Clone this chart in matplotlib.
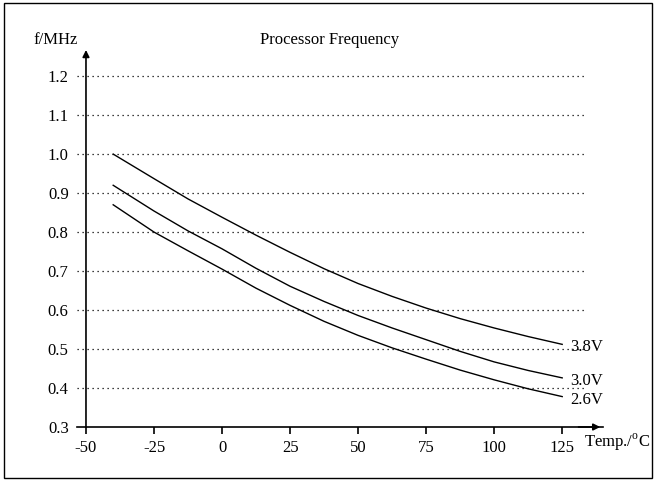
import matplotlib.pyplot as plt
from matplotlib.patches import Rectangle

plt.rcParams['font.family'] = ['Liberation Serif', 'DejaVu Serif']
plt.rcParams['mathtext.fontset'] = 'custom'
plt.rcParams['mathtext.rm'] = 'Liberation Serif'

# Temperature in degrees C
temps = [-40, -25, -12.5, 0, 12.5, 25, 37.5, 50, 62.5, 75, 87.5, 100, 112.5, 125]

# Frequency in MHz for each supply voltage
f_38 = [1.000, 0.937, 0.885, 0.838, 0.792, 0.748, 0.706, 0.668, 0.635, 0.605, 0.578, 0.554, 0.532, 0.512]
f_30 = [0.920, 0.854, 0.803, 0.757, 0.707, 0.661, 0.622, 0.586, 0.554, 0.524, 0.494, 0.467, 0.445, 0.426]
f_26 = [0.870, 0.800, 0.752, 0.705, 0.656, 0.612, 0.571, 0.535, 0.503, 0.474, 0.446, 0.421, 0.398, 0.378]

voltages = ['3.8V', '3.0V', '2.6V']
series = [f_38, f_30, f_26]

x_ticks = [-50, -25, 0, 25, 50, 75, 100, 125]
y_ticks = [0.3, 0.4, 0.5, 0.6, 0.7, 0.8, 0.9, 1.0, 1.1, 1.2]
y_labels = ['0.3', '0.4', '0.5', '0.6', '0.7', '0.8', '0.9', '1.0', '1.1', '1.2']

fig = plt.figure(figsize=(6.57, 4.84), dpi=100)
W, H = 657, 484
ax = fig.add_axes([77 / W, 1 - 427 / H, (603 - 77) / W, (427 - 50) / H])
ax.set_xlim(-53.3, 140)
ax.set_ylim(0.3, 1.267)

# dotted gridlines
ax.hlines(y_ticks[1:], -53.3, 133.5, colors='black', linestyles=(0, (1, 3)), linewidth=0.9)

for vals, lab in zip(series, voltages):
    ax.plot(temps, vals, color='black', linewidth=1.0)
    ax.text(128, vals[-1] - 0.008, lab, fontsize=12, va='center', ha='left')

for s in ['top', 'right', 'left']:
    ax.spines[s].set_visible(False)
ax.spines['bottom'].set_linewidth(1.2)

# axis arrows
ax.annotate('', xy=(140, 0.3), xytext=(130, 0.3),
            arrowprops=dict(arrowstyle='-|>', color='black', lw=1.2, mutation_scale=10))
ax.annotate('', xy=(-50, 1.267), xytext=(-50, 0.3),
            arrowprops=dict(arrowstyle='-|>', color='black', lw=1.2, mutation_scale=10,
                            shrinkA=0, shrinkB=0))

ax.set_xticks(x_ticks)
ax.set_xticklabels([str(t) for t in x_ticks], fontsize=12)
ax.set_yticks(y_ticks)
ax.set_yticklabels(y_labels, fontsize=12)
ax.tick_params(axis='x', direction='out', length=5, width=1.2, pad=4)
ax.tick_params(axis='y', length=0, pad=6)

fig.text(78 / W, 1 - 40 / H, 'f/MHz', fontsize=12, ha='right', va='center')
fig.text(330 / W, 1 - 40 / H, 'Processor Frequency', fontsize=12, ha='center', va='center')
fig.text(584 / W, 1 - 442 / H, r'Temp./$^{\mathrm{o}}$C', fontsize=12, ha='left', va='center')

fig.patches.append(Rectangle((4 / W, 1 - 478 / H), 648 / W, 475 / H, transform=fig.transFigure,
                             fill=False, edgecolor='black', linewidth=1.0))

fig.savefig('out.png', dpi=100)
